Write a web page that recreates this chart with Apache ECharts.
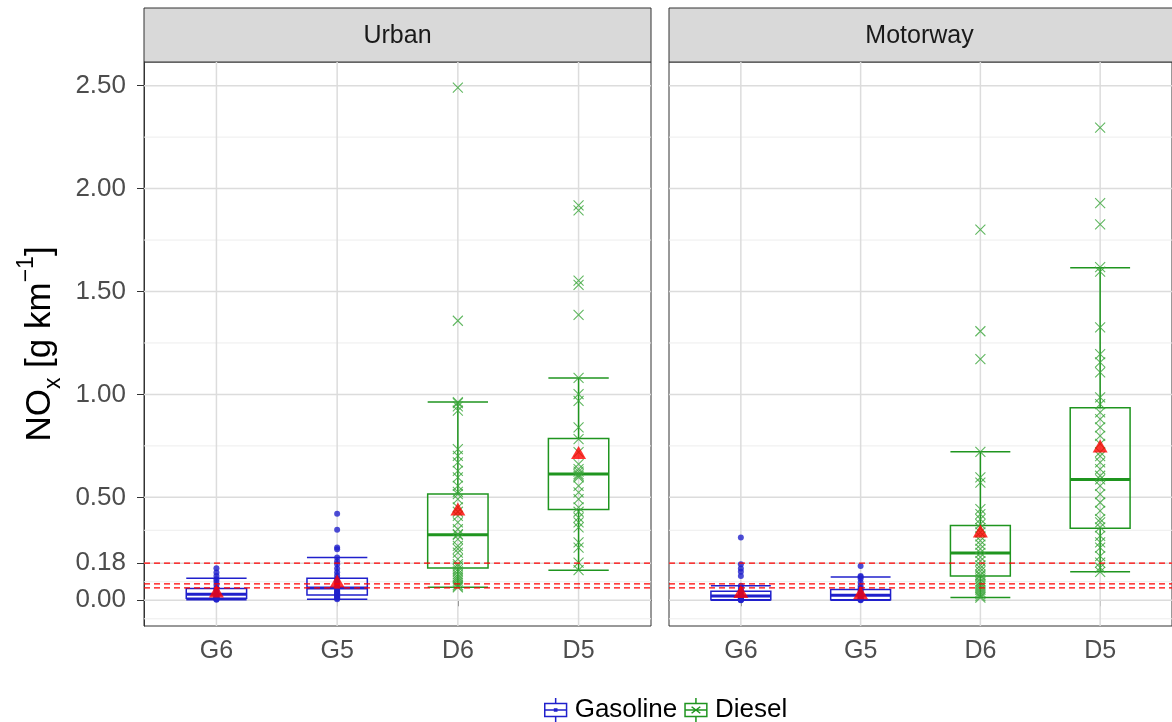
<!DOCTYPE html>
<html><head><meta charset="utf-8">
<script src="https://cdn.jsdelivr.net/npm/echarts@6/dist/echarts.min.js"></script>
<style>html,body{margin:0;padding:0;background:#fff}#c{width:1172px;height:722px}</style>
</head><body><div id="c"></div>
<script>
const categories = ['G6', 'G5', 'D6', 'D5'];
const facets = ['Urban', 'Motorway'];
const yTicks = [0, 0.18, 0.5, 1, 1.5, 2, 2.5];
const yMinor = [-0.09, 0.09, 0.34, 0.75, 1.25, 1.75, 2.25];
const limitLines = [0.18, 0.08, 0.06];

// box statistics per category: [lower whisker, Q1, median, Q3, upper whisker]
const urbanBox = [
  [0.003, 0.010, 0.029, 0.057, 0.107],
  [0.005, 0.026, 0.060, 0.107, 0.208],
  [0.063, 0.157, 0.318, 0.516, 0.963],
  [0.146, 0.441, 0.613, 0.786, 1.080]
];
const motorwayBox = [
  [0.000, 0.002, 0.021, 0.044, 0.070],
  [0.000, 0.002, 0.024, 0.052, 0.113],
  [0.013, 0.118, 0.230, 0.363, 0.721],
  [0.138, 0.350, 0.587, 0.935, 1.615]
];
const urbanMean = [0.045, 0.094, 0.443, 0.718];
const motorwayMean = [0.042, 0.037, 0.337, 0.750];

// individual observations
const urbanG6 = [0.155, 0.135, 0.118, 0.102, 0.09, 0.075, 0.06, 0.05, 0.042, 0.035, 0.03, 0.025, 0.02, 0.015, 0.012, 0.01, 0.007, 0.005, 0.003];
const urbanG5 = [0.42, 0.342, 0.256, 0.248, 0.208, 0.19, 0.175, 0.154, 0.136, 0.12, 0.107, 0.098, 0.09, 0.08, 0.07, 0.062, 0.058, 0.05, 0.045, 0.04, 0.034, 0.03, 0.026, 0.02, 0.015, 0.01, 0.005];
const urbanD6 = [2.49, 1.358, 0.963, 0.958, 0.942, 0.921, 0.734, 0.702, 0.67, 0.629, 0.597, 0.556, 0.527, 0.516, 0.491, 0.451, 0.43, 0.41, 0.378, 0.345, 0.321, 0.318, 0.297, 0.264, 0.25, 0.232, 0.2, 0.175, 0.165, 0.151, 0.14, 0.126, 0.115, 0.105, 0.095, 0.086, 0.075, 0.068, 0.063];
const urbanD5 = [1.918, 1.894, 1.553, 1.532, 1.386, 1.08, 1.002, 0.969, 0.84, 0.783, 0.72, 0.661, 0.637, 0.625, 0.613, 0.605, 0.597, 0.556, 0.524, 0.491, 0.451, 0.43, 0.402, 0.378, 0.354, 0.281, 0.256, 0.183, 0.146];
const motorwayG6 = [0.305, 0.175, 0.154, 0.138, 0.118, 0.07, 0.06, 0.05, 0.044, 0.035, 0.028, 0.021, 0.015, 0.01, 0.006, 0.003, 0.001, 0.0];
const motorwayG5 = [0.167, 0.118, 0.113, 0.105, 0.086, 0.07, 0.06, 0.052, 0.045, 0.035, 0.028, 0.024, 0.018, 0.012, 0.008, 0.004, 0.002, 0.0];
const motorwayD6 = [1.801, 1.307, 1.172, 0.721, 0.597, 0.572, 0.443, 0.418, 0.394, 0.37, 0.35, 0.33, 0.31, 0.29, 0.27, 0.25, 0.23, 0.21, 0.19, 0.17, 0.155, 0.14, 0.125, 0.118, 0.105, 0.09, 0.08, 0.07, 0.06, 0.05, 0.04, 0.03, 0.02, 0.013];
const motorwayD5 = [2.296, 1.929, 1.826, 1.618, 1.597, 1.326, 1.196, 1.156, 1.107, 0.986, 0.953, 0.913, 0.88, 0.84, 0.799, 0.76, 0.72, 0.70, 0.67, 0.637, 0.605, 0.587, 0.556, 0.516, 0.475, 0.434, 0.394, 0.378, 0.354, 0.313, 0.281, 0.256, 0.215, 0.183, 0.159, 0.138];

const FONT = 'Liberation Sans, Arial, sans-serif';
const BLUE = '#2020CC', GREEN = '#1F951F', XGREEN = '#3AA53A', RED = '#FF0000';
const GRID_W = 507;
const grids = [
  { left: 144, top: 62, width: GRID_W, height: 564 },
  { left: 669, top: 62, width: GRID_W, height: 564 }
];

function hLines(values, color, width, dash, gi, z) {
  return {
    type: 'custom', xAxisIndex: gi, yAxisIndex: gi, silent: true, z: z, clip: true,
    data: values.map(v => [1, v]),
    encode: { x: 0, y: 1 },
    renderItem: function (params, api) {
      const cs = params.coordSys;
      const p = api.coord([1, api.value(1)]);
      return { type: 'line', shape: { x1: cs.x, y1: p[1], x2: cs.x + cs.width, y2: p[1] },
        style: { stroke: color, lineWidth: width, lineDash: dash || null } };
    }
  };
}
function vLines(gi) {
  return {
    type: 'custom', xAxisIndex: gi, yAxisIndex: gi, silent: true, z: 1, clip: true,
    data: categories.map((c, i) => [i + 1, 0]),
    encode: { x: 0, y: 1 },
    renderItem: function (params, api) {
      const cs = params.coordSys;
      const p = api.coord([api.value(0), 0]);
      return { type: 'line', shape: { x1: p[0], y1: cs.y, x2: p[0], y2: cs.y + cs.height },
        style: { stroke: '#DCDCDC', lineWidth: 1.5 } };
    }
  };
}
function boxSeries(name, stats, idxs, color, gi) {
  return {
    name: name, type: 'custom', xAxisIndex: gi, yAxisIndex: gi, z: 3,
    data: idxs.map(i => [i + 1].concat(stats[i])),
    encode: { x: 0, y: [1, 2, 3, 4, 5] },
    renderItem: function (params, api) {
      const x = api.value(0);
      const lo = api.coord([x, api.value(1)]), q1 = api.coord([x, api.value(2)]),
        md = api.coord([x, api.value(3)]), q3 = api.coord([x, api.value(4)]), hi = api.coord([x, api.value(5)]);
      const w = api.size([0.5, 0])[0], hw = w / 2, cx = lo[0];
      const st = { stroke: color, lineWidth: 1.5 };
      return { type: 'group', children: [
        { type: 'line', shape: { x1: cx, y1: hi[1], x2: cx, y2: q3[1] }, style: st },
        { type: 'line', shape: { x1: cx, y1: q1[1], x2: cx, y2: lo[1] }, style: st },
        { type: 'line', shape: { x1: cx - hw, y1: hi[1], x2: cx + hw, y2: hi[1] }, style: st },
        { type: 'line', shape: { x1: cx - hw, y1: lo[1], x2: cx + hw, y2: lo[1] }, style: st },
        { type: 'rect', shape: { x: cx - hw, y: q3[1], width: w, height: q1[1] - q3[1] }, style: { stroke: color, lineWidth: 1.5, fill: 'rgba(0,0,0,0)' } },
        { type: 'line', shape: { x1: cx - hw, y1: md[1], x2: cx + hw, y2: md[1] }, style: { stroke: color, lineWidth: 3 } }
      ] };
    }
  };
}
function pointSeries(name, groups, gi, diesel) {
  const data = [];
  groups.forEach(g => g.vals.forEach(v => data.push([g.x, v])));
  return {
    name: name, type: 'scatter', xAxisIndex: gi, yAxisIndex: gi, z: 4, silent: true,
    data: data,
    symbol: diesel ? 'path://M0,0L10,10M10,0L0,10' : 'circle',
    symbolSize: diesel ? 10 : 6,
    itemStyle: diesel ? { color: 'rgba(0,0,0,0)', borderColor: XGREEN, borderWidth: 1.1 } : { color: BLUE },
    emphasis: { disabled: true }
  };
}
function meanSeries(means, gi) {
  return {
    type: 'scatter', xAxisIndex: gi, yAxisIndex: gi, z: 6, silent: true,
    data: means.map((m, i) => [i + 1, m]),
    symbol: 'triangle', symbolSize: [15, 13],
    itemStyle: { color: RED }
  };
}

const boxes = [urbanBox, motorwayBox];
const means = [urbanMean, motorwayMean];
const pts = [[urbanG6, urbanG5, urbanD6, urbanD5], [motorwayG6, motorwayG5, motorwayD6, motorwayD5]];

const series = [];
[0, 1].forEach(gi => {
  series.push(hLines(yMinor, '#EDEDED', 1, null, gi, 1));
  series.push(hLines(yTicks, '#DCDCDC', 1.5, null, gi, 1));
  series.push(vLines(gi));
  series.push(boxSeries('Gasoline', boxes[gi], [0, 1], BLUE, gi));
  series.push(boxSeries('Diesel', boxes[gi], [2, 3], GREEN, gi));
  series.push(pointSeries('Gasoline', [{ x: 1, vals: pts[gi][0] }, { x: 2, vals: pts[gi][1] }], gi, false));
  series.push(pointSeries('Diesel', [{ x: 3, vals: pts[gi][2] }, { x: 4, vals: pts[gi][3] }], gi, true));
  series.push(hLines(limitLines, RED, 1.3, [6, 4], gi, 5));
  series.push(meanSeries(means[gi], gi));
});

const xAxes = [0, 1].map(gi => ({
  type: 'value', gridIndex: gi, min: 0.4, max: 4.6,
  splitLine: { show: false },
  axisLine: { show: true, lineStyle: { color: '#333333', width: 1 } },
  axisTick: { show: true, length: 6, customValues: [1, 2, 3, 4], lineStyle: { color: '#333333' } },
  axisLabel: { customValues: [1, 2, 3, 4], margin: 13, fontSize: 25, color: '#4D4D4D', fontFamily: FONT,
    formatter: v => categories[Math.round(v) - 1] || '' }
}));
const yAxes = [0, 1].map(gi => ({
  type: 'value', gridIndex: gi, min: -0.125, max: 2.615,
  splitLine: { show: false },
  axisLine: { show: gi === 0, lineStyle: { color: '#333333', width: 1 } },
  axisTick: { show: gi === 0, length: 7, customValues: yTicks, lineStyle: { color: '#333333' } },
  axisLabel: { show: gi === 0, customValues: yTicks, margin: 18, fontSize: 26, color: '#4D4D4D', fontFamily: FONT,
    formatter: v => v.toFixed(2) },
  name: gi === 0 ? '{a|NO}{sub|x}{a| [g km}{sup|−1}{a|]}' : '',
  nameLocation: 'middle', nameRotate: 90, nameGap: 79,
  nameTextStyle: {
    fontFamily: FONT, color: '#000',
    rich: {
      a: { fontSize: 35, fontFamily: FONT, color: '#000', lineHeight: 50 },
      sub: { fontSize: 23, fontFamily: FONT, color: '#000', verticalAlign: 'bottom', lineHeight: 50, padding: [16, 0, 0, 0] },
      sup: { fontSize: 23, fontFamily: FONT, color: '#000', verticalAlign: 'top', lineHeight: 50, padding: [0, 0, 18, 0] }
    }
  }
}));

const strips = grids.map((g, i) => ({
  type: 'group', children: [
    { type: 'rect', shape: { x: g.left, y: 8, width: g.width, height: 54 }, style: { fill: '#D9D9D9', stroke: '#333333', lineWidth: 1 } },
    { type: 'text', x: g.left + g.width / 2 - (i === 1 ? 3 : 0), y: 36, style: { text: facets[i], font: '25px ' + FONT, fill: '#1A1A1A', align: 'center', verticalAlign: 'middle' } }
  ]
}));

const iconG = 'path://M11,0V5M1,5H21V17H1ZM1,11H21M11,17V22M10,10H12V12H10Z';
const iconD = 'path://M11,0V5M1,5H21V17H1ZM1,11H21M11,17V22M7,8L15,14M15,8L7,14';

const chart = echarts.init(document.getElementById('c'));
chart.setOption({
  backgroundColor: '#ffffff',
  animation: false,
  grid: grids.map(g => Object.assign({ show: true, backgroundColor: '#fff', borderColor: '#333333', borderWidth: 1 }, g)),
  xAxis: xAxes,
  yAxis: yAxes,
  legend: {
    left: 539, top: 692, itemWidth: 24, itemHeight: 24, itemGap: 7, selectedMode: false,
    textStyle: { fontSize: 26, color: '#000', fontFamily: FONT, padding: [0, 0, 0, 2] },
    data: [
      { name: 'Gasoline', icon: iconG, itemStyle: { color: 'rgba(0,0,0,0)', borderColor: BLUE, borderWidth: 1.5 } },
      { name: 'Diesel', icon: iconD, itemStyle: { color: 'rgba(0,0,0,0)', borderColor: GREEN, borderWidth: 1.5 } }
    ]
  },
  graphic: strips,
  series: series
});
</script>
</body></html>
